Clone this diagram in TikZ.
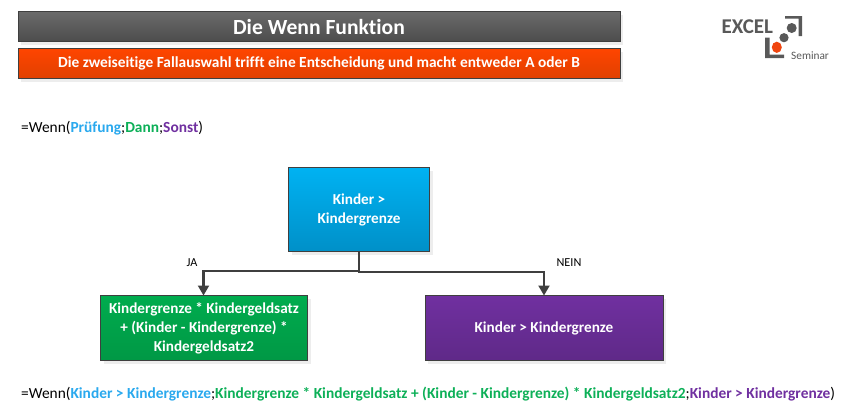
\documentclass[tikz,border=0pt]{standalone}
\usepackage{fontspec}
\setmainfont[Ligatures=NoCommon]{Carlito}
\usetikzlibrary{arrows.meta,positioning}
\definecolor{cblue}{HTML}{2AA9EE}
\definecolor{cgreen}{HTML}{0DB058}
\definecolor{cpurple}{HTML}{7030A0}
\definecolor{cedge}{HTML}{3F3F3F}
\definecolor{cdark}{HTML}{595959}
\definecolor{orangetop}{HTML}{FF4500}
\definecolor{orangebot}{HTML}{E04000}
\definecolor{greytop}{HTML}{6A6A6A}
\definecolor{greybot}{HTML}{4C4C4C}
\definecolor{bluetop}{HTML}{00B2F2}
\definecolor{bluebot}{HTML}{0090C8}
\definecolor{greentop}{HTML}{00AC4E}
\definecolor{greenbot}{HTML}{009845}
\definecolor{purptop}{HTML}{7030A0}
\definecolor{purpbot}{HTML}{5F2988}
\definecolor{logored}{HTML}{F0450F}
\tikzset{
  x=1pt,y=-1pt,
  box/.style={draw=cedge,line width=1pt,rectangle,inner sep=0pt,outer sep=0pt,align=center,text=white,font=\fontsize{15.2}{19}\selectfont\bfseries},
  softshadow/.style={fill=black!7,draw=none},
  link/.style={draw=cedge,line width=2.1pt},
  tip/.style={-{Triangle[length=10pt,width=11pt]}},
  lab/.style={font=\fontsize{12.2}{14}\selectfont,text=black,inner sep=0pt},
  formula/.style={font=\fontsize{15.4}{18}\selectfont,inner sep=0pt,anchor=west,text=black},
  logobar/.style={draw=none,fill=cdark},
}
\newcommand{\boxat}[7]{%
  \fill[softshadow] (#2+3,#3+3) rectangle (#4+3,#5+3);
  \node[box,top color=#6,bottom color=#7,minimum width=#4pt-#2pt,minimum height=#5pt-#3pt,anchor=north west] (#1) at (#2,#3) {};
}
\begin{document}
\begin{tikzpicture}
\useasboundingbox (0,0) rectangle (852,418);
\fill[white] (0,0) rectangle (852,418);
% header bars
\boxat{title}{18}{11.5}{620}{41.5}{greytop}{greybot}
\node[box,draw=none,fill=none,font=\fontsize{21.6}{26}\selectfont\bfseries] (titletext) at (title.center) {Die Wenn Funktion};
\boxat{sub}{18}{48.5}{620}{78.5}{orangetop}{orangebot}
\node[box,draw=none,fill=none,font=\fontsize{15.4}{18}\selectfont\bfseries] (subtext) at (sub.center) {Die zweiseitige Fallauswahl trifft eine Entscheidung und macht entweder A oder B};
% logo
\node[inner sep=0pt,anchor=west,text=cdark,font=\fontsize{21}{25}\selectfont\bfseries] (logoa) at (721.5,27) {EXCEL};
\node[inner sep=0pt,anchor=west,text=cdark,font=\fontsize{11.3}{13}\selectfont] (logob) at (791,56) {Seminar};
\fill[logobar] (785,16) rectangle (802,18.5) (798.5,16) rectangle (802,36);
\fill[logobar] (765,37.5) rectangle (769.5,58) (765,54.5) rectangle (784,58);
\fill[cdark] (791.7,28) circle (5);
\fill[cdark] (784,37.7) circle (4.6);
\fill[logored] (776.8,47.3) ellipse (5 and 5.6);
% first formula
\node[formula] (f1) at (21,128) {=Wenn(\textcolor{cblue}{\textbf{Prüfung}};\textcolor{cgreen}{\textbf{Dann}};\textcolor{cpurple}{\textbf{Sonst}})};
% flow boxes
\boxat{cond}{288.5}{167.5}{429.5}{251.5}{bluetop}{bluebot}
\node[box,draw=none,fill=none,yshift=-0.7pt] (condtext) at (cond.center) {Kinder >\\Kindergrenze};
\boxat{yes}{100.5}{295.5}{307.5}{360.5}{greentop}{greenbot}
\node[box,draw=none,fill=none,yshift=-0.5pt] (yestext) at (yes.center) {Kindergrenze * Kindergeldsatz\\+ (Kinder - Kindergrenze) *\\Kindergeldsatz2};
\boxat{no}{425}{295.5}{663}{360.5}{purptop}{purpbot}
\node[box,draw=none,fill=none,yshift=-0.7pt] (notext) at (no.center) {Kinder > Kindergrenze};
% connectors
\coordinate (cs) at (cond.south);
\coordinate (jl) at (203.5,271);
\coordinate (jr) at (544,272);
\coordinate (ye) at (203.5,295.5);
\coordinate (ne) at (544,295.5);
\draw[link,tip] (cs) |- (jl) -- (ye);
\draw[link,tip] (cs) |- (jr) -- (ne);
\node[lab] (ja) at (192,263) {JA};
\node[lab] (nein) at (569,263) {NEIN};
% second formula
\node[formula] (f2) at (21,394.3) {=Wenn(\textcolor{cblue}{\textbf{Kinder > Kindergrenze}};\textcolor{cgreen}{\textbf{Kindergrenze * Kindergeldsatz + (Kinder - Kindergrenze) * Kindergeldsatz2}};\textcolor{cpurple}{\textbf{Kinder > Kindergrenze}})};
\end{tikzpicture}
\end{document}
